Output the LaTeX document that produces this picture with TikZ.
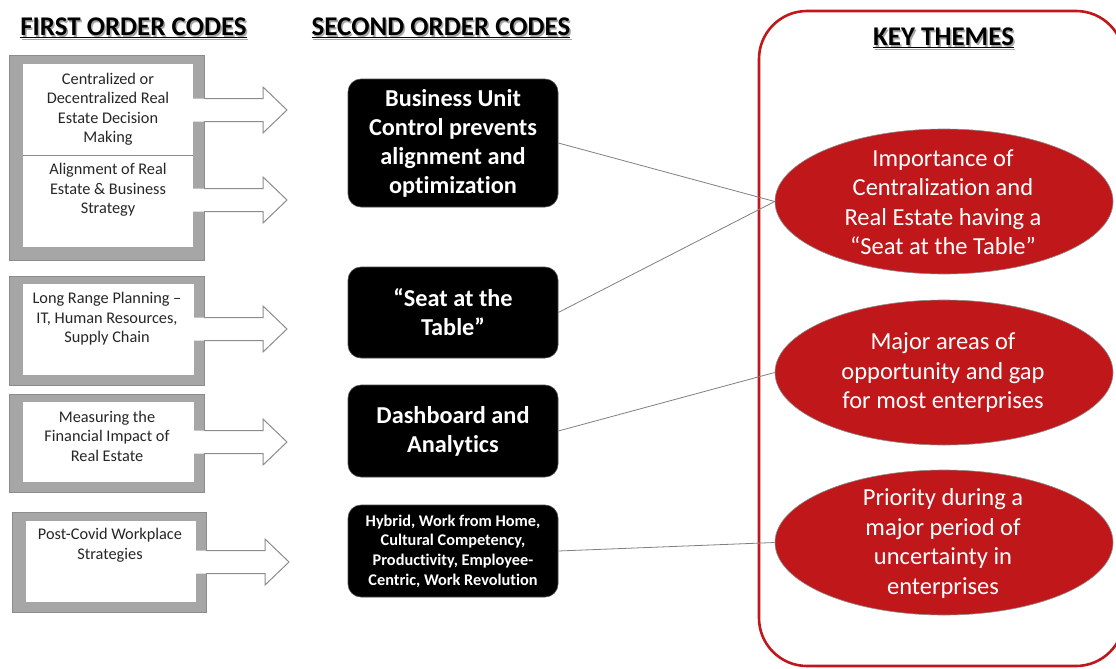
\documentclass[tikz,border=0pt]{standalone}
\usepackage{fontspec}
\setmainfont{Carlito}[Ligatures=NoCommon]
\usetikzlibrary{shapes.geometric}
\definecolor{framegray}{HTML}{A6A6A6}
\definecolor{edgegray}{HTML}{8C8C8C}
\definecolor{themered}{HTML}{C0171A}
\definecolor{linegray}{HTML}{808080}
\newcommand\blockarrow[4]{% center y, frame inner right, frame outer right, tip x
  \pgfmathsetmacro\hb{#4-24}
  \fill[white] (#2,#1-11.5) -- (\hb,#1-11.5) -- (\hb,#1-23) -- (#4,#1) -- (\hb,#1+23) -- (\hb,#1+11.5) -- (#2,#1+11.5) -- cycle;
  \draw[edgegray,line width=1pt,line join=miter] (#3,#1-11.5) -- (\hb,#1-11.5) -- (\hb,#1-23) -- (#4,#1) -- (\hb,#1+23) -- (\hb,#1+11.5) -- (#3,#1+11.5);
}
\tikzset{
  hdr/.style={font=\bfseries\fontsize{27}{30}\selectfont,inner sep=0pt},
  fotext/.style={font=\fontsize{16.3}{19.5}\selectfont,align=center,text=black!85,inner sep=0pt},
  blackbox/.style={draw=black!70,fill=black,rounded corners=13pt,minimum width=210pt,line width=0.6pt},
  bbtext/.style={font=\bfseries\fontsize{24.3}{29}\selectfont,text=white,align=center,inner sep=0pt},
  bbsmall/.style={font=\bfseries\fontsize{16.3}{19.7}\selectfont,text=white,align=center,inner sep=0pt},
  theme/.style={ellipse,fill=themered,draw=black!45,line width=0.6pt,minimum width=338pt,minimum height=145pt,inner sep=0pt},
  thtext/.style={font=\fontsize{24.5}{29.5}\selectfont,text=white,align=center,inner sep=0pt},
  conn/.style={draw=linegray,line width=0.8pt},
}
\begin{document}
\begin{tikzpicture}[x=1pt,y=-1pt]
\useasboundingbox (0,0) rectangle (1116,669);
\clip (0,0) rectangle (1116,669);
\fill[white] (0,0) rectangle (1116,669);

% headers with shadow
\node[hdr,text=black!35] at (135,29.5) {\underline{FIRST ORDER CODES}};
\node[hdr] (h1) at (133.5,28) {\underline{FIRST ORDER CODES}};
\node[hdr,text=black!35] at (442.5,29.5) {\underline{SECOND ORDER CODES}};
\node[hdr] (h2) at (441,28) {\underline{SECOND ORDER CODES}};

% key themes container
\draw[themered,line width=2.6pt,rounded corners=48pt] (759,11) rectangle (1124,666);
\node[hdr,text=black!35] at (945,39.5) {\underline{KEY THEMES}};
\node[hdr] (h3) at (943.5,38) {\underline{KEY THEMES}};

% first order frames
\filldraw[fill=framegray,draw=edgegray,line width=0.5pt] (9,55) rectangle (204,260);
\fill[white] (23,64) rectangle (193,247);
\draw[edgegray,line width=0.8pt] (23,155) -- (193,155);
\blockarrow{110}{192}{204}{287}
\blockarrow{200}{192}{204}{287}

\filldraw[fill=framegray,draw=edgegray,line width=0.5pt] (9,276) rectangle (204,385);
\fill[white] (23,284) rectangle (194,375);
\blockarrow{329}{193}{204}{287}

\filldraw[fill=framegray,draw=edgegray,line width=0.5pt] (9,394) rectangle (204,492);
\fill[white] (23,402) rectangle (194,482);
\blockarrow{442}{193}{204}{287}

\filldraw[fill=framegray,draw=edgegray,line width=0.5pt] (12,512) rectangle (206,612);
\fill[white] (26,521) rectangle (196,602);
\blockarrow{562}{195}{206}{289}

\node[fotext] (f1) at (108,109) {Centralized or\\Decentralized Real\\Estate Decision\\Making};
\node[fotext] (f2) at (108,190) {Alignment of Real\\Estate \& Business\\Strategy};
\node[fotext] (f3) at (107,319) {Long Range Planning --\\IT, Human Resources,\\Supply Chain};
\node[fotext] (f4) at (107,436) {Measuring the\\Financial Impact of\\Real Estate};
\node[fotext] (f5) at (110,545) {Post-Covid Workplace\\Strategies};

% second order boxes
\node[blackbox,minimum height=128pt] (s1) at (453,143) {};
\node[bbtext] at (s1) {Business Unit\\Control prevents\\alignment and\\optimization};
\node[blackbox,minimum height=91pt] (s2) at (453,312.5) {};
\node[bbtext] at (s2) {“Seat at the\\Table”};
\node[blackbox,minimum height=92pt] (s3) at (453,431) {};
\node[bbtext] at (s3) {Dashboard and\\Analytics};
\node[blackbox,minimum height=92pt] (s4) at (453,551) {};
\node[bbsmall] at (s4) {Hybrid, Work from Home,\\Cultural Competency,\\Productivity, Employee-\\Centric, Work Revolution};

% themes
\node[theme] (t1) at (944,201.5) {};
\node[thtext] at (943,202) {Importance of\\Centralization and\\Real Estate having a\\“Seat at the Table”};
\node[theme] (t2) at (944,372.5) {};
\node[thtext] at (943,373) {Major areas of\\opportunity and gap\\for most enterprises};
\node[theme] (t3) at (944,542.5) {};
\node[thtext] at (943,543.5) {Priority during a\\major period of\\uncertainty in\\enterprises};

% connectors
\draw[conn] (s1.east) -- (t1.west);
\draw[conn] (s2.east) -- (t1.west);
\draw[conn] (s3.east) -- (t2.west);
\draw[conn] (s4.east) -- (t3.west);
\end{tikzpicture}
\end{document}
